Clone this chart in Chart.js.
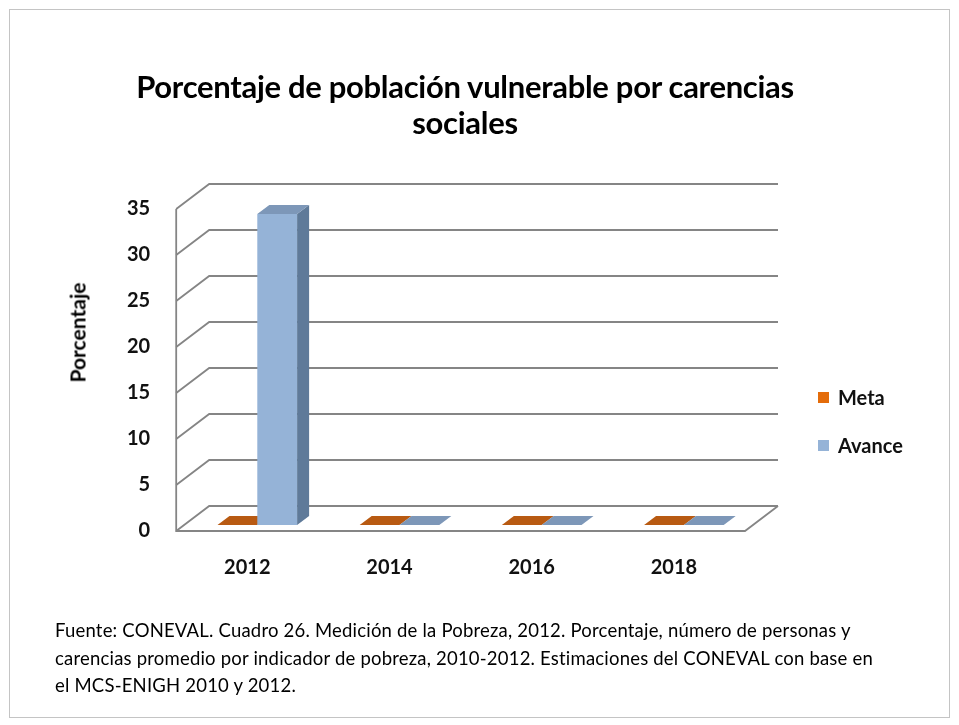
<!DOCTYPE html>
<html>
<head>
<meta charset="utf-8">
<script src="https://cdn.jsdelivr.net/npm/chart.js@4.4.0/dist/chart.umd.min.js"></script>
<style>
  body { margin: 0; background: #fff; font-family: Lato, "Open Sans", sans-serif; }
  #frame { position: absolute; left: 9px; top: 9px; width: 939px; height: 707px; border: 1px solid #c4c4c4; }
  #title { position: absolute; left: 0; top: 68px; width: 930px; text-align: center; font: bold 31px Lato, sans-serif; line-height: 36px; color: #000; letter-spacing: -0.3px; }
  #ytitle { position: absolute; left: 77px; top: 332px; width: 0; height: 0; }
  #ytitle div { position: absolute; left: -80px; top: -12px; width: 160px; text-align: center; line-height: 24px; font: bold 21px Lato, sans-serif; color: #000; transform: rotate(-90deg); }
  #legend { position: absolute; left: 818px; top: 384px; font: bold 20px Lato, sans-serif; color: #111; }
  #legend div { height: 48px; line-height: 26px; }
  #legend span { display: inline-block; width: 11px; height: 11px; margin-right: 9px; vertical-align: 2px; }
  #note { position: absolute; left: 55px; top: 617px; font: 18.5px Lato, sans-serif; line-height: 27.5px; color: #000; letter-spacing: 0.2px; }
  #wrap { position: absolute; left: 0; top: 0; width: 959px; height: 725px; }
</style>
</head>
<body>
<div id="frame"></div>
<div id="wrap"><canvas id="chart"></canvas></div>
<div id="title">Porcentaje de población vulnerable por carencias<br>sociales</div>
<div id="ytitle"><div>Porcentaje</div></div>
<div id="legend"></div>
<div id="note">Fuente: CONEVAL. Cuadro 26. Medición de la Pobreza, 2012. Porcentaje, número de personas y<br>carencias promedio por indicador de pobreza, 2010-2012. Estimaciones del CONEVAL con base en<br>el MCS-ENIGH 2010 y 2012.</div>
<script>
// data
const years = ['2012', '2014', '2016', '2018'];
const meta = [0, 0, 0, 0];
const avance = [33.8, 0, 0, 0];
const yTicks = [0, 5, 10, 15, 20, 25, 30, 35];

// 3D look
const DX = 33, DY = 25;        // depth of the walls
const BX = 10, BY = -6;        // where bar fronts sit inside the depth
const EX = 12, EY = 9;         // bar thickness
const faces = {
    Meta: { front: '#e46c0a', side: '#a8500a', top: '#b85a12' },
    Avance: { front: '#95b3d7', side: '#5f7a99', top: '#7d97b8' }
};

function poly(ctx, pts, fill) {
    ctx.beginPath();
    ctx.moveTo(pts[0][0], pts[0][1]);
    for (let i = 1; i < pts.length; i++) ctx.lineTo(pts[i][0], pts[i][1]);
    ctx.closePath();
    ctx.fillStyle = fill;
    ctx.fill();
}

const box3d = {
    id: 'box3d',
    beforeDatasetsDraw(chart) {
        const ctx = chart.ctx;
        const a = chart.chartArea;
        const ys = chart.scales.y;
        ctx.save();
        ctx.strokeStyle = '#858585';
        ctx.lineWidth = 1.8;
        // wall grid
        yTicks.forEach(function(v) {
            const py = ys.getPixelForValue(v);
            ctx.beginPath();
            ctx.moveTo(a.left, py);
            ctx.lineTo(a.left + DX, py - DY);
            ctx.lineTo(a.right + DX, py - DY);
            ctx.stroke();
        });
        // left wall front edge and floor
        ctx.beginPath();
        ctx.moveTo(a.left, a.top);
        ctx.lineTo(a.left, a.bottom);
        ctx.lineTo(a.right, a.bottom);
        ctx.lineTo(a.right + DX, a.bottom - DY);
        ctx.stroke();

        // bars
        for (let i = 0; i < years.length; i++) {
            chart.data.datasets.forEach(function(ds, d) {
                const el = chart.getDatasetMeta(d).data[i];
                const f = faces[ds.label];
                const l = el.x - el.width / 2 + BX, r = el.x + el.width / 2 + BX;
                const t = el.y + BY, b = el.base + BY;
                if (b - t > 0.5) {
                    poly(ctx, [[l, t], [r, t], [r, b], [l, b]], f.front);
                    poly(ctx, [[r, t], [r + EX, t - EY], [r + EX, b - EY], [r, b]], f.side);
                }
                poly(ctx, [[l, t], [l + EX, t - EY], [r + EX, t - EY], [r, t]], f.top);
            });
        }
        ctx.restore();
        return false;
    }
};

const ctx = document.getElementById('chart').getContext('2d');
const chart = new Chart(ctx, {
    type: 'bar',
    data: {
        labels: years,
        datasets: [
            { label: 'Meta', data: meta, backgroundColor: faces.Meta.front },
            { label: 'Avance', data: avance, backgroundColor: faces.Avance.front }
        ]
    },
    options: {
        responsive: true,
        maintainAspectRatio: false,
        animation: false,
        layout: { padding: { left: 101, right: 214, top: 209, bottom: 120 } },
        plugins: { legend: { display: false }, tooltip: { enabled: false } },
        datasets: { bar: { categoryPercentage: 0.56, barPercentage: 1 } },
        scales: {
            x: {
                grid: { display: false, drawTicks: false },
                border: { display: false },
                ticks: { color: '#111', font: { family: 'Lato', size: 20, weight: 'bold' }, padding: 25 }
            },
            y: {
                min: 0, max: 35,
                afterBuildTicks(s) { s.ticks = yTicks.map(v => ({ value: v })); },
                grid: { display: false, drawTicks: false },
                border: { display: false },
                ticks: { color: '#111', font: { family: 'Lato', size: 20, weight: 'bold' }, padding: 26 }
            }
        }
    },
    plugins: [box3d]
});

document.getElementById('legend').innerHTML = chart.data.datasets.map(ds =>
    '<div><span style="background:' + ds.backgroundColor + '"></span>' + ds.label + '</div>'
).join('');
</script>
</body>
</html>
